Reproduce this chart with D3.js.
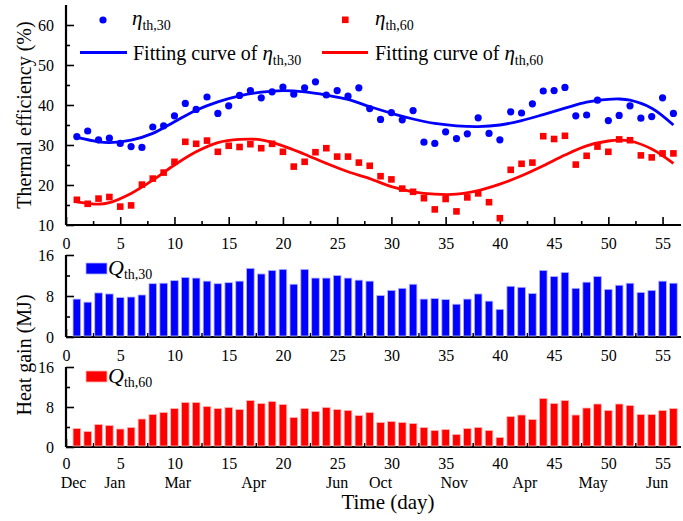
<!DOCTYPE html>
<html>
<head>
<meta charset="utf-8">
<script src="https://cdn.jsdelivr.net/npm/d3@7"></script>
<style>
  body { margin: 0; background: #fff; }
  svg { font-family: "Liberation Serif", "Times New Roman", serif; }
</style>
</head>
<body>
<div id="chart"></div>
<script>
// measured efficiencies (%) per day
const days = d3.range(1, 57);
const eta30 = [32.1, 33.5, 31.3, 31.7, 30.4, 29.6, 29.4, 34.5, 34.8, 37.3, 40.4, 38.9, 42.0, 37.9, 39.8, 42.4, 43.6, 41.8, 43.3, 44.5,
  42.7, 44.3, 45.8, 42.5, 43.6, 42.2, 44.3, 39.1, 36.4, 38.1, 36.3, 38.6, 30.7, 30.4, 33.3, 31.6, 32.8, 36.8, 32.9, 31.3,
  38.3, 38.0, 40.3, 43.5, 43.6, 44.4, 37.3, 37.5, 41.2, 36.1, 37.4, 39.8, 36.7, 37.1, 41.8, 37.9];
const eta60 = [16.3, 15.3, 16.6, 17.0, 14.6, 14.9, 20.1, 21.6, 23.1, 25.8, 30.8, 30.3, 31.1, 28.3, 29.8, 29.5, 30.2, 29.2, 30.3, 28.3,
  24.6, 25.8, 28.2, 29.2, 27.1, 27.1, 25.6, 24.8, 22.2, 21.4, 19.1, 18.3, 16.7, 13.9, 16.5, 13.4, 16.9, 17.9, 15.7, 11.7,
  23.8, 25.3, 25.6, 32.2, 31.5, 32.3, 25.1, 27.3, 29.6, 28.3, 31.4, 31.2, 27.4, 26.9, 27.9, 27.9];

// fitting curves
const fitDays = [1, 3, 4, 6, 8, 10, 12, 14, 16, 18, 20, 22, 24, 26, 28, 30, 32, 34, 36, 38, 40, 42, 44, 46, 48, 50, 51, 52, 54, 56];
const fit30 = [31.9, 30.8, 30.6, 31.2, 32.9, 35.8, 38.7, 40.8, 42.3, 43.2, 43.6, 43.3, 42.5, 41.4, 39.6, 37.9, 36.5, 35.4, 34.8, 34.6,
  35.0, 36.1, 37.6, 39.2, 40.7, 41.4, 41.5, 41.2, 39.2, 35.0];
const fit60 = [15.8, 15.2, 15.6, 17.9, 21.2, 25.0, 28.3, 30.6, 31.4, 31.3, 29.8, 27.7, 25.4, 23.3, 21.6, 19.6, 18.3, 17.7, 17.7, 18.6,
  20.2, 22.3, 24.8, 27.5, 29.8, 31.0, 31.2, 31.0, 29.0, 25.4];

// heat gain (MJ) per day
const q30 = [7.4, 6.8, 8.6, 8.4, 7.7, 7.8, 8.2, 10.4, 10.5, 11.0, 11.6, 11.5, 10.9, 10.4, 10.6, 10.9, 13.4, 12.3, 13.0, 13.2,
  10.3, 13.2, 11.5, 11.5, 12.0, 11.5, 11.1, 10.9, 8.1, 9.1, 9.5, 10.3, 7.4, 7.5, 7.3, 6.4, 7.4, 8.4, 7.0, 5.4,
  9.9, 9.7, 8.5, 13.0, 11.8, 12.6, 9.5, 10.7, 11.8, 9.3, 10.1, 10.5, 8.7, 9.1, 10.9, 10.5];
const q60 = [3.7, 3.1, 4.5, 4.3, 3.6, 3.9, 5.6, 6.5, 6.9, 7.7, 8.9, 8.9, 8.1, 7.7, 7.9, 7.5, 9.3, 8.7, 9.1, 8.5,
  5.9, 7.7, 7.1, 7.9, 7.5, 7.3, 6.3, 6.9, 4.9, 5.1, 4.9, 4.7, 3.9, 3.3, 3.5, 2.5, 3.7, 3.9, 3.3, 1.9,
  6.1, 6.4, 5.5, 9.7, 8.7, 9.3, 6.4, 7.8, 8.6, 7.3, 8.6, 8.3, 6.5, 6.5, 7.3, 7.7];

const xTicks = d3.range(0, 56, 5);
const months = ["Dec", "Jan", "Mar", "Apr", "Jun", "Oct", "Nov", "Apr", "May", "Jun"];
const monthDays = [0.7, 4.5, 10.3, 17.3, 25, 29, 35.8, 42.3, 48.6, 54.5];

const width = 683, height = 521;
const svg = d3.select("#chart").append("svg")
  .attr("width", width)
  .attr("height", height);

const x = d3.scaleLinear().domain([0, 56.7]).range([66, 681]);

const yEta = d3.scaleLinear().domain([10, 65]).range([225, 5]);
const yQ30 = d3.scaleLinear().domain([0, 16]).range([337, 255]);
const yQ60 = d3.scaleLinear().domain([0, 16]).range([447, 367]);

// draws inward-pointing axes with minor ticks
function drawAxes(y, yMajor, yMinor, top, pad) {
  const base = y.range()[0];
  const g = svg.append("g");

  g.append("g")
    .attr("transform", "translate(0," + base + ")")
    .call(d3.axisBottom(x).tickValues(d3.range(2.5, 56, 5)).tickSize(-4).tickFormat(""))
    .call(a => a.select(".domain").remove());
  g.append("g")
    .attr("transform", "translate(0," + base + ")")
    .call(d3.axisBottom(x).tickValues(xTicks).tickSize(-8).tickPadding(pad).tickFormat(d3.format("d")))
    .call(a => a.select(".domain").attr("d", "M" + x.range()[0] + ",0H" + x.range()[1]).attr("stroke-width", 2.2));

  g.append("g")
    .attr("transform", "translate(" + x.range()[0] + ",0)")
    .call(d3.axisLeft(y).tickValues(yMinor).tickSize(-4).tickFormat(""))
    .call(a => a.select(".domain").remove());
  g.append("g")
    .attr("transform", "translate(" + x.range()[0] + ",0)")
    .call(d3.axisLeft(y).tickValues(yMajor).tickSize(-8).tickPadding(12))
    .call(a => a.select(".domain").attr("d", "M0," + base + "V" + top).attr("stroke-width", 2.2));

  g.selectAll("text").attr("font-size", 16).attr("font-family", "Liberation Serif").attr("fill", "#000");
  g.selectAll(".tick line").attr("stroke-width", 1.6);
  return g;
}

drawAxes(yEta, [10, 20, 30, 40, 50, 60], [15, 25, 35, 45, 55], 5, 13);
drawAxes(yQ30, [0, 8, 16], [4, 12], 255, 13);
drawAxes(yQ60, [0, 8, 16], [4, 12], 367, 11);

// bars
function drawBars(vals, y, fill, edge) {
  const bw = 7.6;
  svg.append("g").selectAll("rect")
    .data(vals)
    .enter()
    .append("rect")
    .attr("x", (d, i) => x(days[i]) - bw / 2)
    .attr("y", d => y(d))
    .attr("width", bw)
    .attr("height", d => y(0) - y(d) - 1)
    .attr("fill", fill)
    .attr("stroke", edge)
    .attr("stroke-width", 0.8);
}
drawBars(q30, yQ30, "#0000ff", "#b4b4ff");
drawBars(q60, yQ60, "#ff0000", "#ffb4b4");

// fitting curves
const line = (vals) => d3.line()
  .x((d, i) => x(fitDays[i]))
  .y(d => yEta(d))
  .curve(d3.curveCatmullRom)(vals);

svg.append("path").attr("d", line(fit30)).attr("fill", "none").attr("stroke", "#0000ff").attr("stroke-width", 2.8);
svg.append("path").attr("d", line(fit60)).attr("fill", "none").attr("stroke", "#ff0000").attr("stroke-width", 2.8);

// points
svg.append("g").selectAll("circle")
  .data(eta30)
  .enter()
  .append("circle")
  .attr("cx", (d, i) => x(days[i]))
  .attr("cy", d => yEta(d))
  .attr("r", 3.6)
  .attr("fill", "#0000ff");

const sq = 6.6;
svg.append("g").selectAll("rect")
  .data(eta60)
  .enter()
  .append("rect")
  .attr("x", (d, i) => x(days[i]) - sq / 2)
  .attr("y", d => yEta(d) - sq / 2)
  .attr("width", sq)
  .attr("height", sq)
  .attr("fill", "#ff0000");

// legend helpers
function etaLabel(g, px, py, prefix, sub) {
  const t = g.append("text").attr("x", px).attr("y", py).attr("font-size", 20);
  if (prefix) t.append("tspan").text(prefix);
  t.append("tspan").attr("font-style", "italic").attr("font-size", 21).text("η");
  t.append("tspan").attr("font-size", 14).attr("dy", 5).text(sub);
}

const leg = svg.append("g");
leg.append("circle").attr("cx", 103).attr("cy", 20).attr("r", 3.6).attr("fill", "#0000ff");
etaLabel(leg, 132, 25, null, "th,30");
leg.append("rect").attr("x", 342).attr("y", 16.5).attr("width", sq).attr("height", sq).attr("fill", "#ff0000");
etaLabel(leg, 375, 25, null, "th,60");

leg.append("line").attr("x1", 80).attr("x2", 127).attr("y1", 52.5).attr("y2", 52.5).attr("stroke", "#0000ff").attr("stroke-width", 2.8);
etaLabel(leg, 133, 60, "Fitting curve of ", "th,30");
leg.append("line").attr("x1", 322).attr("x2", 368).attr("y1", 52.5).attr("y2", 52.5).attr("stroke", "#ff0000").attr("stroke-width", 2.8);
etaLabel(leg, 375, 60, "Fitting curve of ", "th,60");

function qLegend(py, fill, edge, sub) {
  svg.append("rect").attr("x", 86).attr("y", py - 6).attr("width", 21).attr("height", 11)
    .attr("fill", fill).attr("stroke", edge).attr("stroke-width", 0.8);
  const t = svg.append("text").attr("x", 108).attr("y", py + 6);
  t.append("tspan").attr("font-style", "italic").attr("font-size", 22).text("Q");
  t.append("tspan").attr("font-size", 14).attr("dy", 4).text(sub);
}
qLegend(269, "#0000ff", "#b4b4ff", "th,30");
qLegend(377, "#ff0000", "#ffb4b4", "th,60");

// month labels under the bottom axis
svg.append("g").selectAll("text")
  .data(months)
  .enter()
  .append("text")
  .attr("x", (d, i) => x(monthDays[i]))
  .attr("y", 488)
  .attr("text-anchor", "middle")
  .attr("font-size", 16)
  .text(d => d);

// axis titles
svg.append("text")
  .attr("transform", "translate(31,115) rotate(-90)")
  .attr("text-anchor", "middle")
  .attr("font-size", 20)
  .text("Thermal efficiency (%)");
svg.append("text")
  .attr("transform", "translate(31,355) rotate(-90)")
  .attr("text-anchor", "middle")
  .attr("font-size", 20)
  .text("Heat gain (MJ)");
svg.append("text")
  .attr("x", 388)
  .attr("y", 509)
  .attr("text-anchor", "middle")
  .attr("font-size", 21)
  .text("Time (day)");
</script>
</body>
</html>
